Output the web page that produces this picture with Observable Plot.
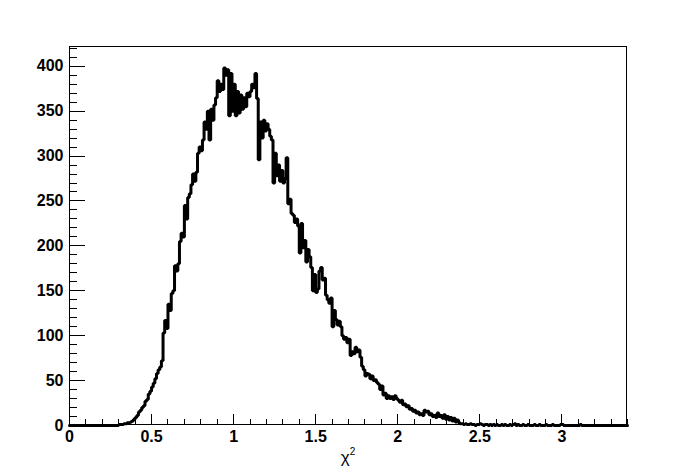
<!DOCTYPE html>
<html><head><meta charset="utf-8">
<script src="https://cdn.jsdelivr.net/npm/d3@7"></script>
<script src="https://cdn.jsdelivr.net/npm/@observablehq/plot@0.6"></script>
<style>html,body{margin:0;padding:0;background:#fff} svg{display:block}</style>
</head><body><div id="chart"></div>
<script>
// Histogram: bins of width 0.01 starting at 0 (one row = 10 bins)
const binWidth = 0.01;
const binStart = 0;
const counts = [
  0,0,0,0,0,0,0,0,0,0,
  0,0,0,0,0,0,0,0,0,0,
  0,0,0,0,0,0,0,0,0,0,
  1,1,1,2,2,3,3,4,5,7,
  9,11,15,17,20,22,27,29,35,38,
  43,47,52,58,62,65,72,103,117,108,
  135,128,147,150,178,172,180,205,214,210,
  245,230,254,258,268,280,272,282,303,310,
  306,318,338,330,350,318,352,340,357,365,
  384,372,380,374,398,390,396,345,392,350,
  380,345,372,348,368,352,365,355,370,366,
  372,380,376,392,364,296,338,320,340,328,
  336,330,322,318,270,303,278,290,272,284,
  270,275,298,247,252,236,234,226,230,222,
  192,225,198,206,182,196,188,176,150,168,
  148,152,172,176,162,164,145,140,136,142,
  110,128,118,112,116,110,100,96,98,92,
  96,78,82,80,87,82,84,76,66,62,
  55,58,57,52,55,50,51,48,46,40,
  44,34,36,30,33,30,32,29,33,30,
  28,26,28,23,24,21,22,18,19,16,
  17,14,15,12,13,11,17,15,16,12,
  13,10,11,9,14,10,11,8,12,7,
  10,6,9,5,8,4,6,3,2,2,
  1,2,1,1,2,1,1,0,1,1,
  2,1,0,1,1,0,1,0,1,0,
  1,0,0,1,0,1,0,0,1,0,
  1,2,0,1,0,0,1,0,0,1,
  0,0,0,1,0,0,1,0,0,0,
  1,0,0,0,1,0,0,0,0,1,
  1,0,0,0,0,0,0,0,0,0,
  0,1,0,0,0,0,0,0,0,0,
  0,0,0,0,0,0,0,0,0,0,
  0,0,0,0,0,0,0,0,0,0
];
const xDomain = [0, 3.4];
const yDomain = [0, 422];
const xTickLabels = [0, 0.5, 1, 1.5, 2, 2.5, 3];
const yTickLabels = [0, 50, 100, 150, 200, 250, 300, 350, 400];
const xMinorStep = 0.1;
const yMinorStep = 10;
const xTitle = "χ";
const xTitleSup = "2";

const pts = counts.map((c, i) => ({x: binStart + i * binWidth, y: c}));
pts.push({x: binStart + counts.length * binWidth, y: counts[counts.length - 1]});

const font = "'Liberation Sans', Arial, Helvetica, sans-serif";

function frameAndTicks(index, scales, values, dims) {
  const {x, y} = scales;
  const L = dims.marginLeft, R = dims.width - dims.marginRight;
  const T = dims.marginTop, B = dims.height - dims.marginBottom;
  const g = d3.create("svg:g").attr("stroke", "black").attr("stroke-width", 1).attr("fill", "none");
  const yMajorLen = 16, yMinorLen = 8, xMajorLen = 11, xMinorLen = 6;
  const yMin = d3.range(yDomain[0], yDomain[1] + 1e-9, yMinorStep);
  for (const v of yMin) {
    const major = yTickLabels.includes(v);
    const py = Math.round(y(v)) + 0.5;
    g.append("line").attr("x1", L).attr("x2", L + (major ? yMajorLen : yMinorLen)).attr("y1", py).attr("y2", py);
  }
  const xMin = d3.range(0, Math.round((xDomain[1] - xDomain[0]) / xMinorStep) + 1).map(i => +(xDomain[0] + i * xMinorStep).toFixed(4));
  for (const v of xMin) {
    const major = xTickLabels.some(t => Math.abs(t - v) < 1e-6);
    const px = Math.round(x(v)) + 0.5;
    g.append("line").attr("x1", px).attr("x2", px).attr("y1", B).attr("y2", B - (major ? xMajorLen : xMinorLen));
  }
  g.append("rect").attr("x", L + 0.5).attr("y", T + 0.5).attr("width", R - L - 1).attr("height", B - T - 1);
  const t = d3.create("svg:text").attr("x", (L + R) / 2).attr("y", B + 38)
    .attr("text-anchor", "middle").attr("font-family", font).attr("font-weight", "normal").attr("font-size", 17).attr("fill", "black").attr("stroke", "none");
  t.append("tspan").text(xTitle);
  t.append("tspan").attr("font-size", 10).attr("dy", -8).text(xTitleSup);
  const outer = d3.create("svg:g");
  outer.node().appendChild(g.node());
  outer.node().appendChild(t.node());
  return outer.node();
}

const chart = Plot.plot({
  width: 696,
  height: 472,
  marginLeft: 69,
  marginRight: 69,
  marginTop: 46,
  marginBottom: 47,
  style: {fontFamily: font, fontSize: "16px", fontWeight: "bold", background: "#fff", color: "black"},
  x: {domain: xDomain, label: null},
  y: {domain: yDomain, label: null},
  marks: [
    Plot.axisY(yTickLabels, {anchor: "left", tickSize: 0, tickPadding: 6, fontSize: 16, fontWeight: "bold", label: null, tickFormat: d => String(d)}),
    Plot.axisX(xTickLabels, {anchor: "bottom", tickSize: 0, tickPadding: 5, fontSize: 16, fontWeight: "bold", label: null, tickFormat: d => String(d)}),
    Plot.line(pts, {x: "x", y: "y", curve: "step-after", stroke: "black", strokeWidth: 3, strokeLinejoin: "miter"}),
    frameAndTicks
  ]
});
document.getElementById("chart").appendChild(chart);
</script>
</body></html>
